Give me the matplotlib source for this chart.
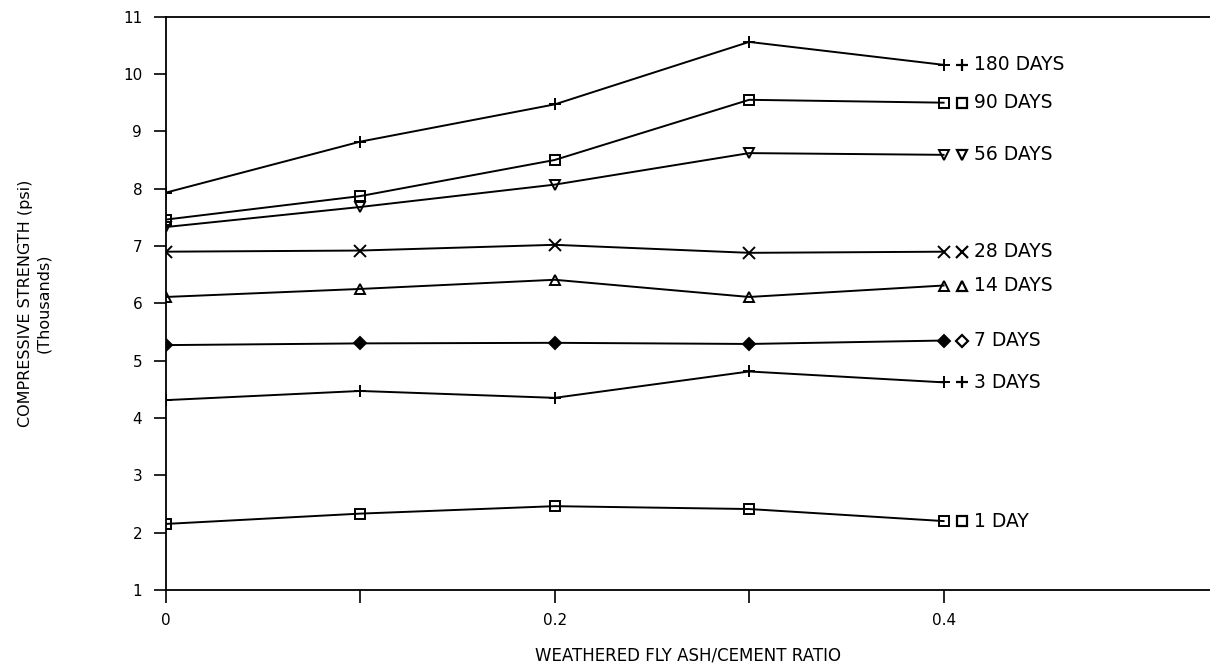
import matplotlib.pyplot as plt
import matplotlib.transforms as mtrans
import numpy as np

plt.rcParams['font.family'] = ['DejaVu Sans']

ratio = [0, 0.1, 0.2, 0.3, 0.4]
d180 = [7.93, 8.82, 9.47, 10.56, 10.16]
d90 = [7.46, 7.87, 8.50, 9.55, 9.50]
d56 = [7.33, 7.68, 8.07, 8.62, 8.59]
d28 = [6.90, 6.92, 7.02, 6.88, 6.90]
d14 = [6.11, 6.25, 6.41, 6.11, 6.31]
d7 = [5.27, 5.30, 5.31, 5.29, 5.35]
d3 = [4.31, 4.47, 4.35, 4.81, 4.62]
d1 = [2.15, 2.33, 2.46, 2.41, 2.20]

series = [
    (d180, '180 DAYS', '+', 'none', 9),
    (d90, '90 DAYS', 's', 'none', 7),
    (d56, '56 DAYS', 'v', 'none', 7),
    (d28, '28 DAYS', 'x', 'none', 8),
    (d14, '14 DAYS', '^', 'none', 7),
    (d7, '7 DAYS', 'D', 'full', 6),
    (d3, '3 DAYS', '+', 'none', 9),
    (d1, '1 DAY', 's', 'none', 7),
]

fig = plt.figure(figsize=(12.1, 6.68), dpi=100)
ax = fig.add_axes([0.137, 0.117, 0.863, 0.858])

for vals, name, mk, fs, ms in series:
    ax.plot(ratio, vals, color='black', lw=1.4, marker=mk, ms=ms,
            fillstyle=fs, mew=1.4)
    # label marker and text right of the last point
    tr = mtrans.offset_copy(ax.transData, fig=fig, x=18, y=0, units='dots')
    ax.plot([ratio[-1]], [vals[-1]], marker=mk, ms=ms, color='black',
            fillstyle='none', mew=1.6, transform=tr, clip_on=False)
    tr2 = mtrans.offset_copy(ax.transData, fig=fig, x=30, y=0, units='dots')
    ax.text(ratio[-1], vals[-1], name, transform=tr2, va='center', ha='left',
            fontsize=13.5)

ax.set_xlim(0, 0.537)
ax.set_ylim(1, 11)
ax.set_xticks([0, 0.1, 0.2, 0.3, 0.4])
ax.set_xticklabels(['0', '', '0.2', '', '0.4'])
ax.set_yticks(range(1, 12))
ax.tick_params(axis='both', direction='out', length=9, width=1.2,
               labelsize=11, pad=8)
ax.spines['right'].set_visible(False)
for s in ['left', 'bottom', 'top']:
    ax.spines[s].set_linewidth(1.3)

ax.set_xlabel('WEATHERED FLY ASH/CEMENT RATIO', fontsize=12, labelpad=13)
ax.set_ylabel('COMPRESSIVE STRENGTH (psi)\n(Thousands)', fontsize=11.5,
              labelpad=52)

fig.savefig('out.png', dpi=100)
